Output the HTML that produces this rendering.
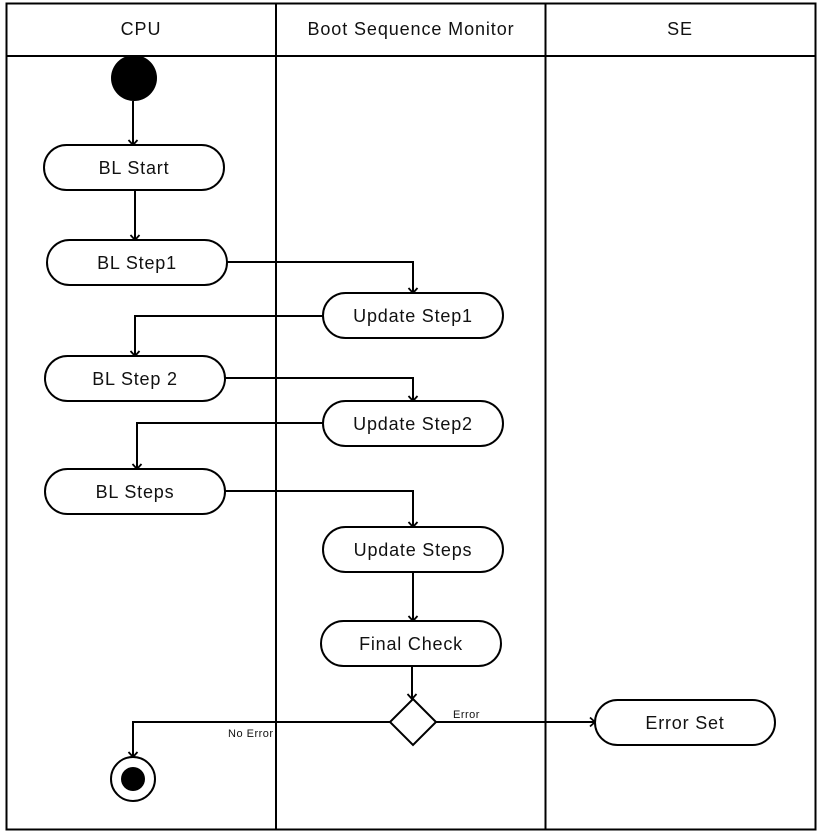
<!DOCTYPE html>
<html><head><meta charset="utf-8"><style>html,body{margin:0;padding:0;background:#fff}svg{display:block}text{font-family:"Liberation Sans",sans-serif}</style></head>
<body>
<svg width="825" height="833" viewBox="0 0 825 833" xmlns="http://www.w3.org/2000/svg">
<defs>
<marker id="d" viewBox="0 0 12 12" markerWidth="12" markerHeight="12" refX="11" refY="6" orient="auto" markerUnits="userSpaceOnUse"><path d="M6,1.5 L11,6 L6,10.5" fill="none" stroke="#000" stroke-width="1.8"/></marker></defs>
<g fill="none" stroke="#000" stroke-width="2">
<rect x="6.5" y="3.5" width="809" height="826"/>
<line x1="6" y1="56" x2="815" y2="56"/>
<line x1="276" y1="3" x2="276" y2="829"/>
<line x1="545.5" y1="3" x2="545.5" y2="829"/>
</g>
<g font-size="18" text-anchor="middle" fill="#111" letter-spacing="0.9">
<text x="141" y="35">CPU</text>
<text x="411" y="35">Boot Sequence Monitor</text>
<text x="680" y="35">SE</text>
</g>
<circle cx="134" cy="78" r="23" fill="#000"/>
<g fill="none" stroke="#000" stroke-width="2" marker-end="url(#d)">
<path d="M133 101 V145"/>
<path d="M135 190 V240"/>
<path d="M227 262 H413 V293"/>
<path d="M323 316 H135 V356"/>
<path d="M225 378 H413 V401"/>
<path d="M323 423 H137 V469"/>
<path d="M225 491 H413 V527"/>
<path d="M413 572 V621"/>
<path d="M412 666 V699"/>
<path d="M436 722 H595"/>
<path d="M390 722 H133 V757"/>
</g>
<g fill="#fff" stroke="#000" stroke-width="2">
<rect x="44" y="145" width="180" height="45" rx="22.5"/>
<rect x="47" y="240" width="180" height="45" rx="22.5"/>
<rect x="323" y="293" width="180" height="45" rx="22.5"/>
<rect x="45" y="356" width="180" height="45" rx="22.5"/>
<rect x="323" y="401" width="180" height="45" rx="22.5"/>
<rect x="45" y="469" width="180" height="45" rx="22.5"/>
<rect x="323" y="527" width="180" height="45" rx="22.5"/>
<rect x="321" y="621" width="180" height="45" rx="22.5"/>
<rect x="595" y="700" width="180" height="45" rx="22.5"/>
<path d="M413 699 L436 722 L413 745 L390 722 Z"/>
<circle cx="133" cy="779" r="22"/>
</g>
<circle cx="133" cy="779" r="12" fill="#000"/>
<g font-size="18" text-anchor="middle" fill="#111" letter-spacing="0.8">
<text x="134" y="174">BL Start</text>
<text x="137" y="269">BL Step1</text>
<text x="413" y="322">Update Step1</text>
<text x="135" y="385">BL Step 2</text>
<text x="413" y="430">Update Step2</text>
<text x="135" y="498">BL Steps</text>
<text x="413" y="556">Update Steps</text>
<text x="411" y="650">Final Check</text>
<text x="685" y="729">Error Set</text>
</g>
<g font-size="11" fill="#111" letter-spacing="0.5">
<text x="453" y="718">Error</text>
<text x="228" y="737">No Error</text>
</g>
</svg>
</body></html>
